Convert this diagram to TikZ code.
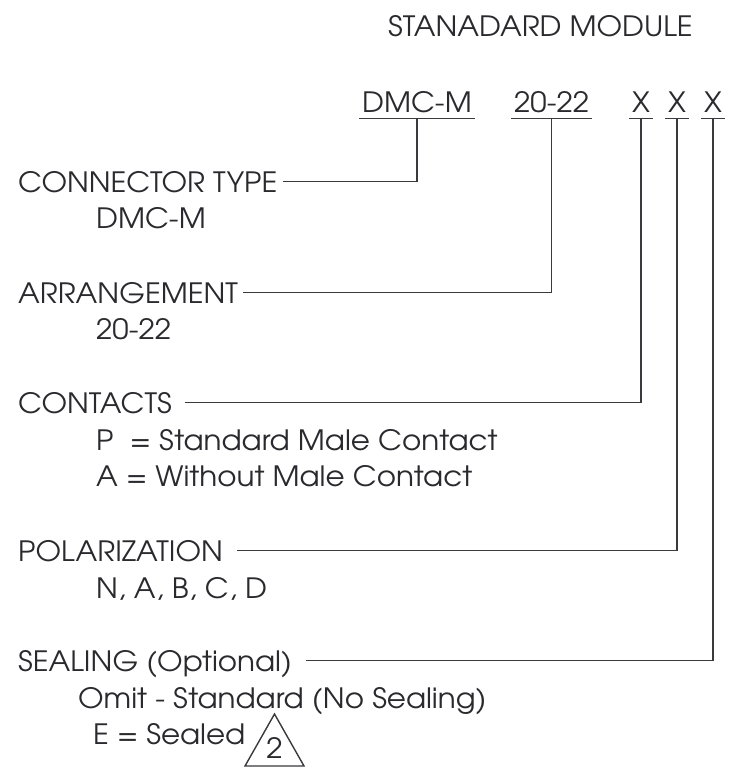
\documentclass[tikz,border=0pt]{standalone}
\usepackage{fontspec}
\setmainfont[FakeStretch=1.05]{TeX Gyre Adventor}
\definecolor{ink}{HTML}{2A2A2E}
\definecolor{wire}{HTML}{3A3A3E}
\tikzset{
  txt/.style={font=\fontsize{28}{32}\selectfont, text=ink, anchor=base west, inner sep=0pt},
  code/.style={txt, inner xsep=3pt, inner ysep=6pt, text depth=0pt},
  uline/.style={draw=wire, line width=1.4pt},
  lead/.style={draw=wire, line width=1.4pt},
}
\begin{document}
\begin{tikzpicture}[x=1pt,y=-1pt]
\useasboundingbox[fill=white] (0,0) rectangle (732,776);
% title
\node[txt] (title) at (388,37) {STANADARD MODULE};
% code fields
\node[code] (dmc) at (359,112) {DMC-M};
\node[code] (arr) at (511,112) {20-22};
\node[code] (x1) at (629,112) {X};
\node[code] (x2) at (665,112) {X};
\node[code] (x3) at (701,112) {X};
\foreach \n in {dmc,arr,x1,x2,x3}{\draw[uline] (\n.south west) -- (\n.south east);}
% headers
\node[txt] (ct) at (18,192) {CONNECTOR TYPE};
\node[txt] (ctv) at (96,228) {DMC-M};
\node[txt] (ar) at (18,303) {ARRANGEMENT};
\node[txt] (arv) at (96,339) {20-22};
\node[txt] (co) at (18,413) {CONTACTS};
\node[txt] (cov1) at (96,450) {P\ \ = Standard Male Contact};
\node[txt] (cov2) at (96,486) {A = Without Male Contact};
\node[txt] (po) at (18,561) {POLARIZATION};
\node[txt] (pov) at (96,598) {N, A, B, C, D};
\node[txt] (se) at (18,671) {SEALING (Optional)};
\node[txt] (sev1) at (78,708) {Omit - Standard (No Sealing)};
\node[txt] (sev2) at (93,744) {E = Sealed};
% note triangle
\coordinate (ta) at (245,766);
\coordinate (tb) at (304,766);
\coordinate (tc) at (274.5,714);
\draw[lead] (ta) -- (tb) -- (tc) -- cycle;
\node[txt, anchor=center] (two) at (274.5,748) {2};
% leaders
\draw[lead] ([xshift=5pt,yshift=10.5pt]ct.base east) -| (dmc.south);
\draw[lead] ([xshift=5pt,yshift=10.5pt]ar.base east) -| (arr.south);
\draw[lead] ([xshift=13pt,yshift=10.5pt]co.base east) -| (x1.south);
\draw[lead] ([xshift=14pt,yshift=10.5pt]po.base east) -| (x2.south);
\draw[lead] ([xshift=14pt,yshift=10.5pt]se.base east) -| (x3.south);
\end{tikzpicture}
\end{document}
